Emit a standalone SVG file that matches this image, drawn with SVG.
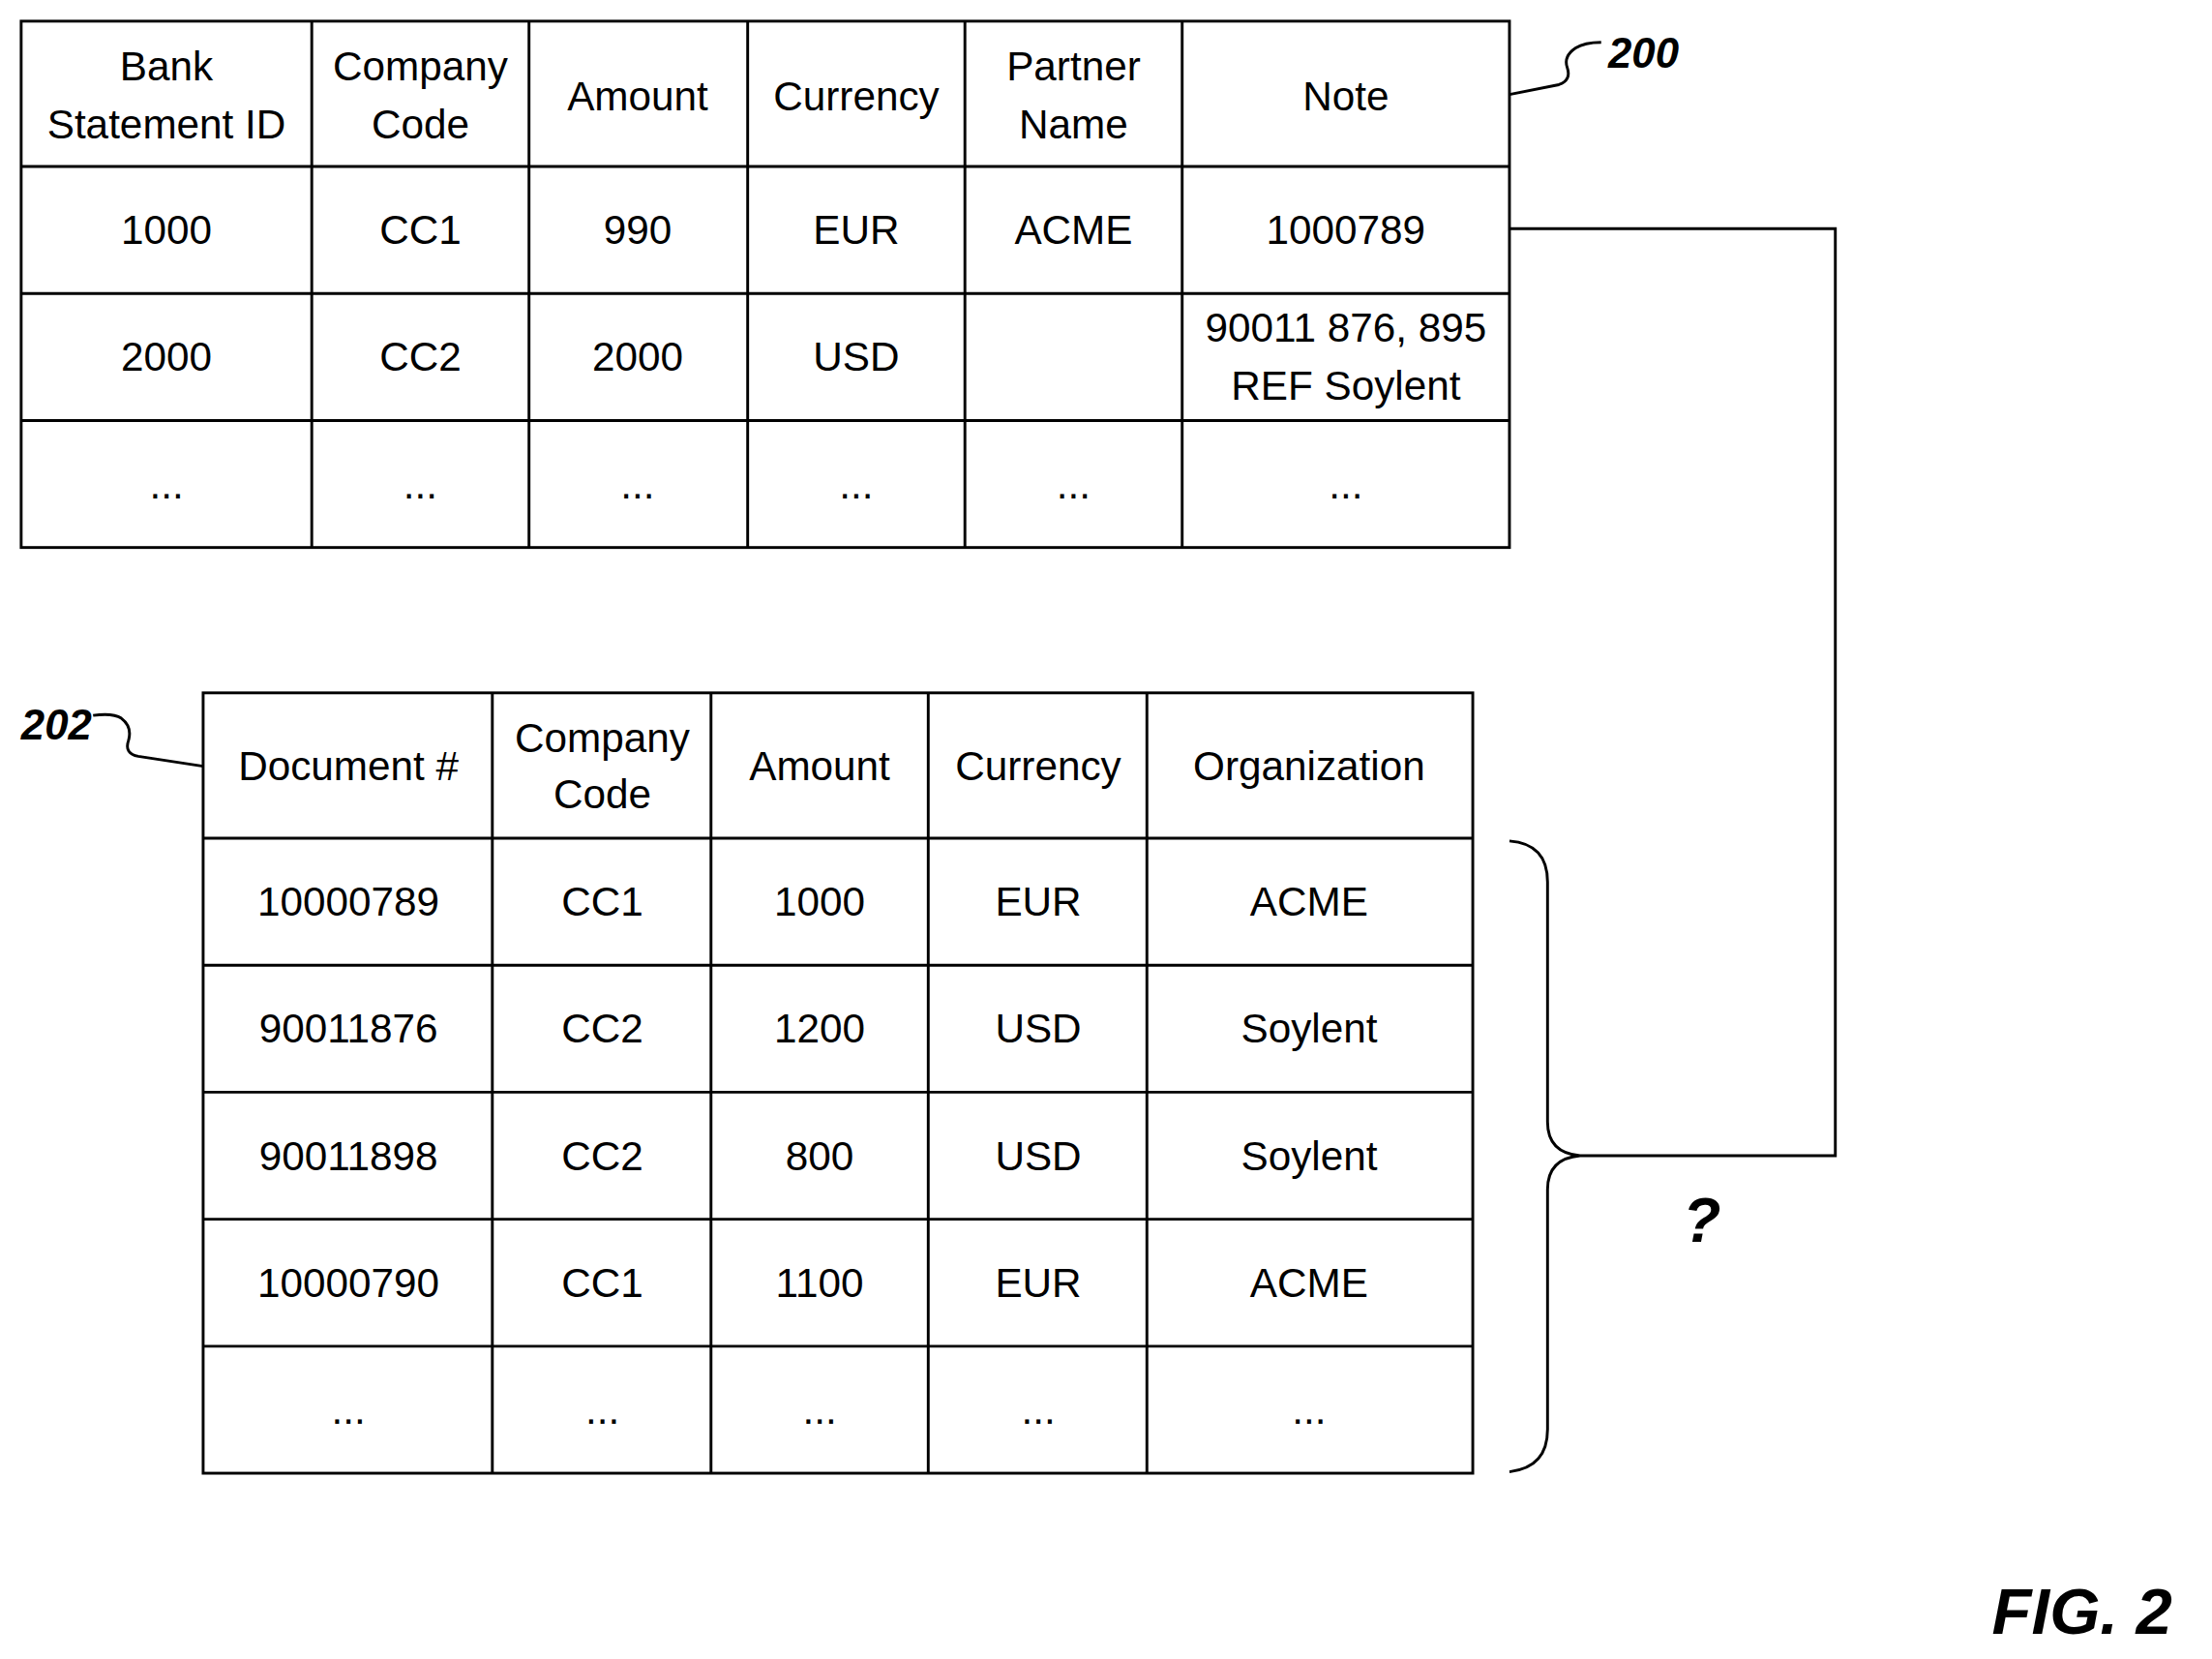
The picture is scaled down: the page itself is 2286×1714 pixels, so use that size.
<svg xmlns="http://www.w3.org/2000/svg" width="2286" height="1714" viewBox="0 0 2286 1714">
<style>
.g{stroke:#000;stroke-width:2;fill:none}
.t{font-family:"Liberation Sans",Arial,sans-serif;font-size:29px;text-anchor:middle;fill:#000}
.b{font-family:"Liberation Sans",Arial,sans-serif;font-weight:bold;font-style:italic;fill:#000}
</style>
<rect width="2286" height="1714" fill="#fff"/>
<g transform="scale(1.4579)">
<g id="table200">
<rect class="g" x="15" y="15" width="1055" height="373"/>
<path class="g" d="M221 15V388M375 15V388M530 15V388M684 15V388M838 15V388M15 118H1070M15 208H1070M15 298H1070"/>
<text class="t" x="118" y="57">Bank</text><text class="t" x="118" y="98">Statement ID</text>
<text class="t" x="298" y="57">Company</text><text class="t" x="298" y="98">Code</text>
<text class="t" x="452" y="78">Amount</text>
<text class="t" x="607" y="78">Currency</text>
<text class="t" x="761" y="57">Partner</text><text class="t" x="761" y="98">Name</text>
<text class="t" x="954" y="78">Note</text>
<text class="t" x="118" y="173">1000</text><text class="t" x="298" y="173">CC1</text><text class="t" x="452" y="173">990</text><text class="t" x="607" y="173">EUR</text><text class="t" x="761" y="173">ACME</text><text class="t" x="954" y="173">1000789</text>
<text class="t" x="118" y="263">2000</text><text class="t" x="298" y="263">CC2</text><text class="t" x="452" y="263">2000</text><text class="t" x="607" y="263">USD</text><text class="t" x="954" y="242">90011 876, 895</text><text class="t" x="954" y="283">REF Soylent</text>
<text class="t" x="118" y="353">...</text><text class="t" x="298" y="353">...</text><text class="t" x="452" y="353">...</text><text class="t" x="607" y="353">...</text><text class="t" x="761" y="353">...</text><text class="t" x="954" y="353">...</text>
</g>
<g id="table202">
<rect class="g" x="144" y="491" width="900" height="553"/>
<path class="g" d="M349 491V1044M504 491V1044M658 491V1044M813 491V1044M144 594H1044M144 684H1044M144 774H1044M144 864H1044M144 954H1044"/>
<text class="t" x="247" y="553">Document #</text>
<text class="t" x="427" y="533">Company</text><text class="t" x="427" y="573">Code</text>
<text class="t" x="581" y="553">Amount</text>
<text class="t" x="736" y="553">Currency</text>
<text class="t" x="928" y="553">Organization</text>
<text class="t" x="247" y="649">10000789</text><text class="t" x="427" y="649">CC1</text><text class="t" x="581" y="649">1000</text><text class="t" x="736" y="649">EUR</text><text class="t" x="928" y="649">ACME</text>
<text class="t" x="247" y="739">90011876</text><text class="t" x="427" y="739">CC2</text><text class="t" x="581" y="739">1200</text><text class="t" x="736" y="739">USD</text><text class="t" x="928" y="739">Soylent</text>
<text class="t" x="247" y="829">90011898</text><text class="t" x="427" y="829">CC2</text><text class="t" x="581" y="829">800</text><text class="t" x="736" y="829">USD</text><text class="t" x="928" y="829">Soylent</text>
<text class="t" x="247" y="919">10000790</text><text class="t" x="427" y="919">CC1</text><text class="t" x="581" y="919">1100</text><text class="t" x="736" y="919">EUR</text><text class="t" x="928" y="919">ACME</text>
<text class="t" x="247" y="1009">...</text><text class="t" x="427" y="1009">...</text><text class="t" x="581" y="1009">...</text><text class="t" x="736" y="1009">...</text><text class="t" x="928" y="1009">...</text>
</g>
<g id="connectors">
<path class="g" d="M1070 162H1301V819H1120"/>
<path class="g" d="M1070 596Q1097 598 1097 625V795Q1097 817 1120 819Q1097 821 1097 843V1013Q1097 1040 1070 1043"/>
<path class="g" d="M1070 67L1105 60Q1114 57 1111 48Q1108 40 1117 34Q1123 30 1135 30"/>
<path class="g" d="M144 543L98 536Q88 534 91 525Q94 515 86 509Q80 505 66 507"/>
</g>
<text class="b" x="1140" y="48" font-size="30">200</text>
<text class="b" x="15" y="524" font-size="30">202</text>
<text class="b" x="1193" y="880" font-size="44">?</text>
<text class="b" x="1412" y="1158" font-size="46">FIG. 2</text>
</g>
</svg>
